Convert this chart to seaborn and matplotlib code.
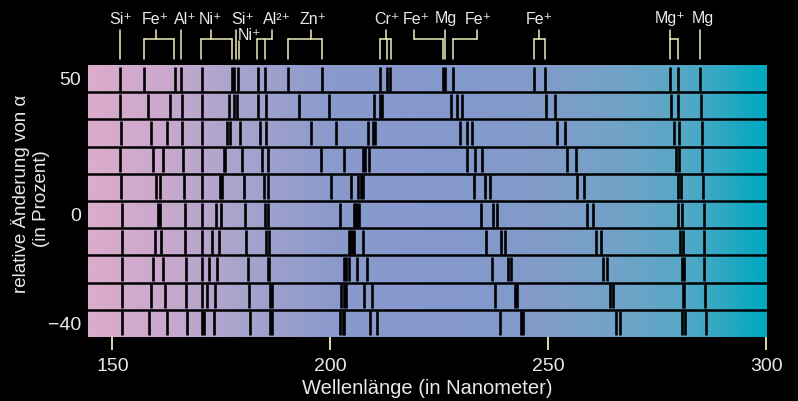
import matplotlib
matplotlib.use("Agg")
import matplotlib.pyplot as plt
import matplotlib.transforms as mtransforms
from matplotlib.colors import LinearSegmentedColormap
import numpy as np
import pandas as pd
import seaborn as sns

# relative Änderung von alpha (in %) je Streifen, von oben nach unten
alpha_levels = [50, 40, 30, 20, 10, 0, -10, -20, -30, -40]

# Lage der Absorptionslinien (nm) je Streifen
lines_p50 = [151.7, 157.3, 164.4, 165.7, 170.6, 177.5, 178.0, 178.9, 183.4, 185.1, 190.4, 198.2,
             211.3, 212.9, 213.8, 225.9, 226.4, 228.2, 246.7, 249.2, 277.9, 279.7, 284.8]
lines_p40 = [151.7, 158.1, 163.2, 166.0, 170.5, 176.8, 177.9, 178.7, 183.5, 185.3, 192.9, 199.8,
             210.0, 211.3, 211.9, 227.7, 229.0, 230.3, 249.4, 251.5, 278.2, 279.7, 285.1]
lines_p30 = [151.9, 158.8, 162.5, 166.0, 170.6, 176.3, 176.9, 179.3, 183.9, 185.3, 195.6, 201.4,
             208.7, 209.8, 210.3, 229.7, 231.3, 232.6, 252.1, 253.8, 278.8, 280.1, 285.3]
lines_p20 = [151.7, 159.4, 161.7, 166.3, 170.5, 175.6, 175.9, 179.7, 184.4, 185.6, 197.9, 203.1,
             207.4, 207.9, 208.8, 231.4, 233.3, 234.7, 254.3, 256.3, 279.3, 280.1, 285.3]
lines_p10 = [152.0, 160.0, 161.0, 166.4, 170.5, 174.7, 175.1, 180.1, 184.8, 185.7, 200.2, 204.8,
             206.4, 207.1, 207.5, 232.9, 235.6, 236.6, 256.7, 258.2, 279.7, 280.5, 285.6]
lines_0 = [152.1, 160.4, 160.9, 166.7, 170.5, 173.7, 174.9, 180.5, 185.1, 185.8, 202.3, 205.4,
           205.7, 206.1, 206.5, 234.5, 237.4, 238.3, 258.8, 260.3, 279.8, 280.7, 285.7]
lines_m10 = [152.1, 159.8, 161.1, 166.7, 170.5, 172.9, 174.5, 180.7, 185.3, 186.0, 204.2, 204.5,
             205.0, 205.4, 207.4, 235.8, 239.2, 240.0, 260.9, 262.1, 280.3, 280.9, 285.8]
lines_m20 = [152.1, 159.2, 161.5, 166.9, 170.5, 172.2, 174.0, 181.0, 185.7, 186.0, 203.2, 203.7,
             204.2, 206.1, 208.4, 237.0, 240.8, 241.5, 262.6, 263.6, 280.7, 281.2, 285.8]
lines_m30 = [152.1, 158.8, 162.1, 166.9, 170.5, 171.7, 173.6, 181.4, 186.2, 186.6, 202.4, 203.1,
             203.6, 207.8, 209.6, 237.9, 242.4, 242.9, 264.1, 264.8, 280.9, 281.2, 286.0]
lines_m40 = [152.1, 158.4, 162.5, 167.1, 170.6, 171.0, 173.3, 181.6, 186.2, 186.6, 202.3, 202.8,
             203.2, 209.2, 210.6, 238.9, 243.7, 244.1, 265.5, 266.4, 280.7, 281.4, 286.2]
rows = [lines_p50, lines_p40, lines_p30, lines_p20, lines_p10,
        lines_0, lines_m10, lines_m20, lines_m30, lines_m40]

# Beschriftung der Linien oben
ion_labels = ["Si⁺", "Fe⁺", "Al⁺", "Ni⁺", "Si⁺", "Ni⁺", "Al²⁺", "Zn⁺",
              "Cr⁺", "Fe⁺", "Mg", "Fe⁺", "Fe⁺", "Mg⁺", "Mg"]
label_x = [152.0, 159.9, 166.7, 172.6, 179.8, 181.4, 187.7, 196.1,
           212.9, 219.7, 226.6, 234.0, 248.0, 277.9, 285.6]
label_row = [0, 0, 0, 0, 0, 1, 0, 0, 0, 0, 0, 0, 0, 0, 0]
stem_x = [151.7, 160.0, 165.7, 172.6, 178.3, 179.0, 186.6, 195.6,
          212.7, 219.3, 226.4, 233.7, 247.9, 277.9, 284.8]
leg_x = [[], [157.2, 164.2], [], [170.3, 177.4], [], [], [183.1, 184.9], [190.4, 198.1],
         [211.5, 212.9, 214.0], [225.9], [], [228.2], [246.7, 249.2], [277.9, 279.7], []]

x_ticks = [150, 200, 250, 300]
y_ticks = [50, 0, -40]
y_ticklabels = ["50", "0", "−40"]

spec_colors = ["#dcaccc", "#c8a8cc", "#a8a4cc", "#8a9acc", "#8498cc", "#809cc8",
               "#72a2c8", "#56a8c6", "#00a8c0"]
spec_stops = [0.0, 0.12, 0.22, 0.36, 0.55, 0.68, 0.78, 0.88, 1.0]

TEXT = "#e8e8e8"
CREAM = "#efebbd"
W, H = 798, 401

sns.set_theme(style="dark", rc={"figure.facecolor": "black", "axes.facecolor": "black",
                                "savefig.facecolor": "black"})
plt.rcParams["font.family"] = ["Liberation Sans", "DejaVu Sans"]

df = pd.DataFrame([(a, w) for a, row in zip(alpha_levels, rows) for w in row],
                  columns=["alpha", "wavelength"])

fig = plt.figure(figsize=(W / 100, H / 100), dpi=100)
top_px, bottom_px, left_px, right_px = 65, 337, 88, 767
ax = fig.add_axes([left_px / W, 1 - bottom_px / H, (right_px - left_px) / W, (bottom_px - top_px) / H])

xmin, xmax = 144.4, 300.2
ymin, ymax = -45, 55
cmap = LinearSegmentedColormap.from_list("spec", list(zip(spec_stops, spec_colors)))
ax.imshow(np.linspace(0, 1, 512)[np.newaxis, :], extent=[xmin, xmax, ymin, ymax],
          aspect="auto", cmap=cmap, zorder=0, interpolation="bilinear")

row_px = (bottom_px - top_px) / len(alpha_levels)
sns.scatterplot(data=df, x="wavelength", y="alpha", marker="|", s=(row_px * 0.9 * 0.72) ** 2,
                color="black", linewidth=1.9, legend=False, ax=ax, zorder=2)

for b in np.arange(ymin + 10, ymax, 10):
    ax.axhline(b, color="black", lw=1.8, zorder=3)

ax.set_xlim(xmin, xmax)
ax.set_ylim(ymin, ymax)
for s in ax.spines.values():
    s.set_visible(False)
ax.grid(False)
ax.set_xticks(x_ticks)
ax.set_yticks(y_ticks)
ax.set_yticklabels(y_ticklabels)
ax.tick_params(axis="x", colors=CREAM, length=9, width=1.3, pad=6, labelsize=14, labelcolor=TEXT, bottom=True)
ax.tick_params(axis="y", length=0, pad=5, labelsize=14, labelcolor=TEXT, left=False)
ax.set_xlabel("Wellenlänge (in Nanometer)", color=TEXT, fontsize=14.5, labelpad=3)
ax.set_ylabel("")
fig.text(21 / W, 1 - 194 / H, "relative Änderung von α", rotation=90, color=TEXT,
         fontsize=13.5, ha="center", va="center")
fig.text(42 / W, 1 - 199 / H, "(in Prozent)", rotation=90, color=TEXT,
         fontsize=13.5, ha="center", va="center")

# Ionen-Beschriftung mit Klammern
trans = mtransforms.blended_transform_factory(ax.transData, fig.transFigure)
def fy(px):
    return 1 - px / H

lw = 1.1
for lab, lx, lr, sx, legs in zip(ion_labels, label_x, label_row, stem_x, leg_x):
    ty = 19 if lr == 0 else 35
    ax.text(lx, fy(ty), lab, transform=trans, ha="center", va="center", color=TEXT,
            fontsize=11.5, clip_on=False)
    if lr == 1:
        ax.plot([sx, sx], [fy(41), fy(59)], color=CREAM, lw=lw, transform=trans, clip_on=False)
    elif not legs:
        ax.plot([sx, sx], [fy(30), fy(59)], color=CREAM, lw=lw, transform=trans, clip_on=False)
    else:
        ax.plot([sx, sx], [fy(30), fy(39)], color=CREAM, lw=lw, transform=trans, clip_on=False)
        xs = legs + [sx]
        ax.plot([min(xs), max(xs)], [fy(39), fy(39)], color=CREAM, lw=lw, transform=trans, clip_on=False)
        for g in legs:
            ax.plot([g, g], [fy(39), fy(59)], color=CREAM, lw=lw, transform=trans, clip_on=False)

fig.savefig("out.png", dpi=100, facecolor="black")
